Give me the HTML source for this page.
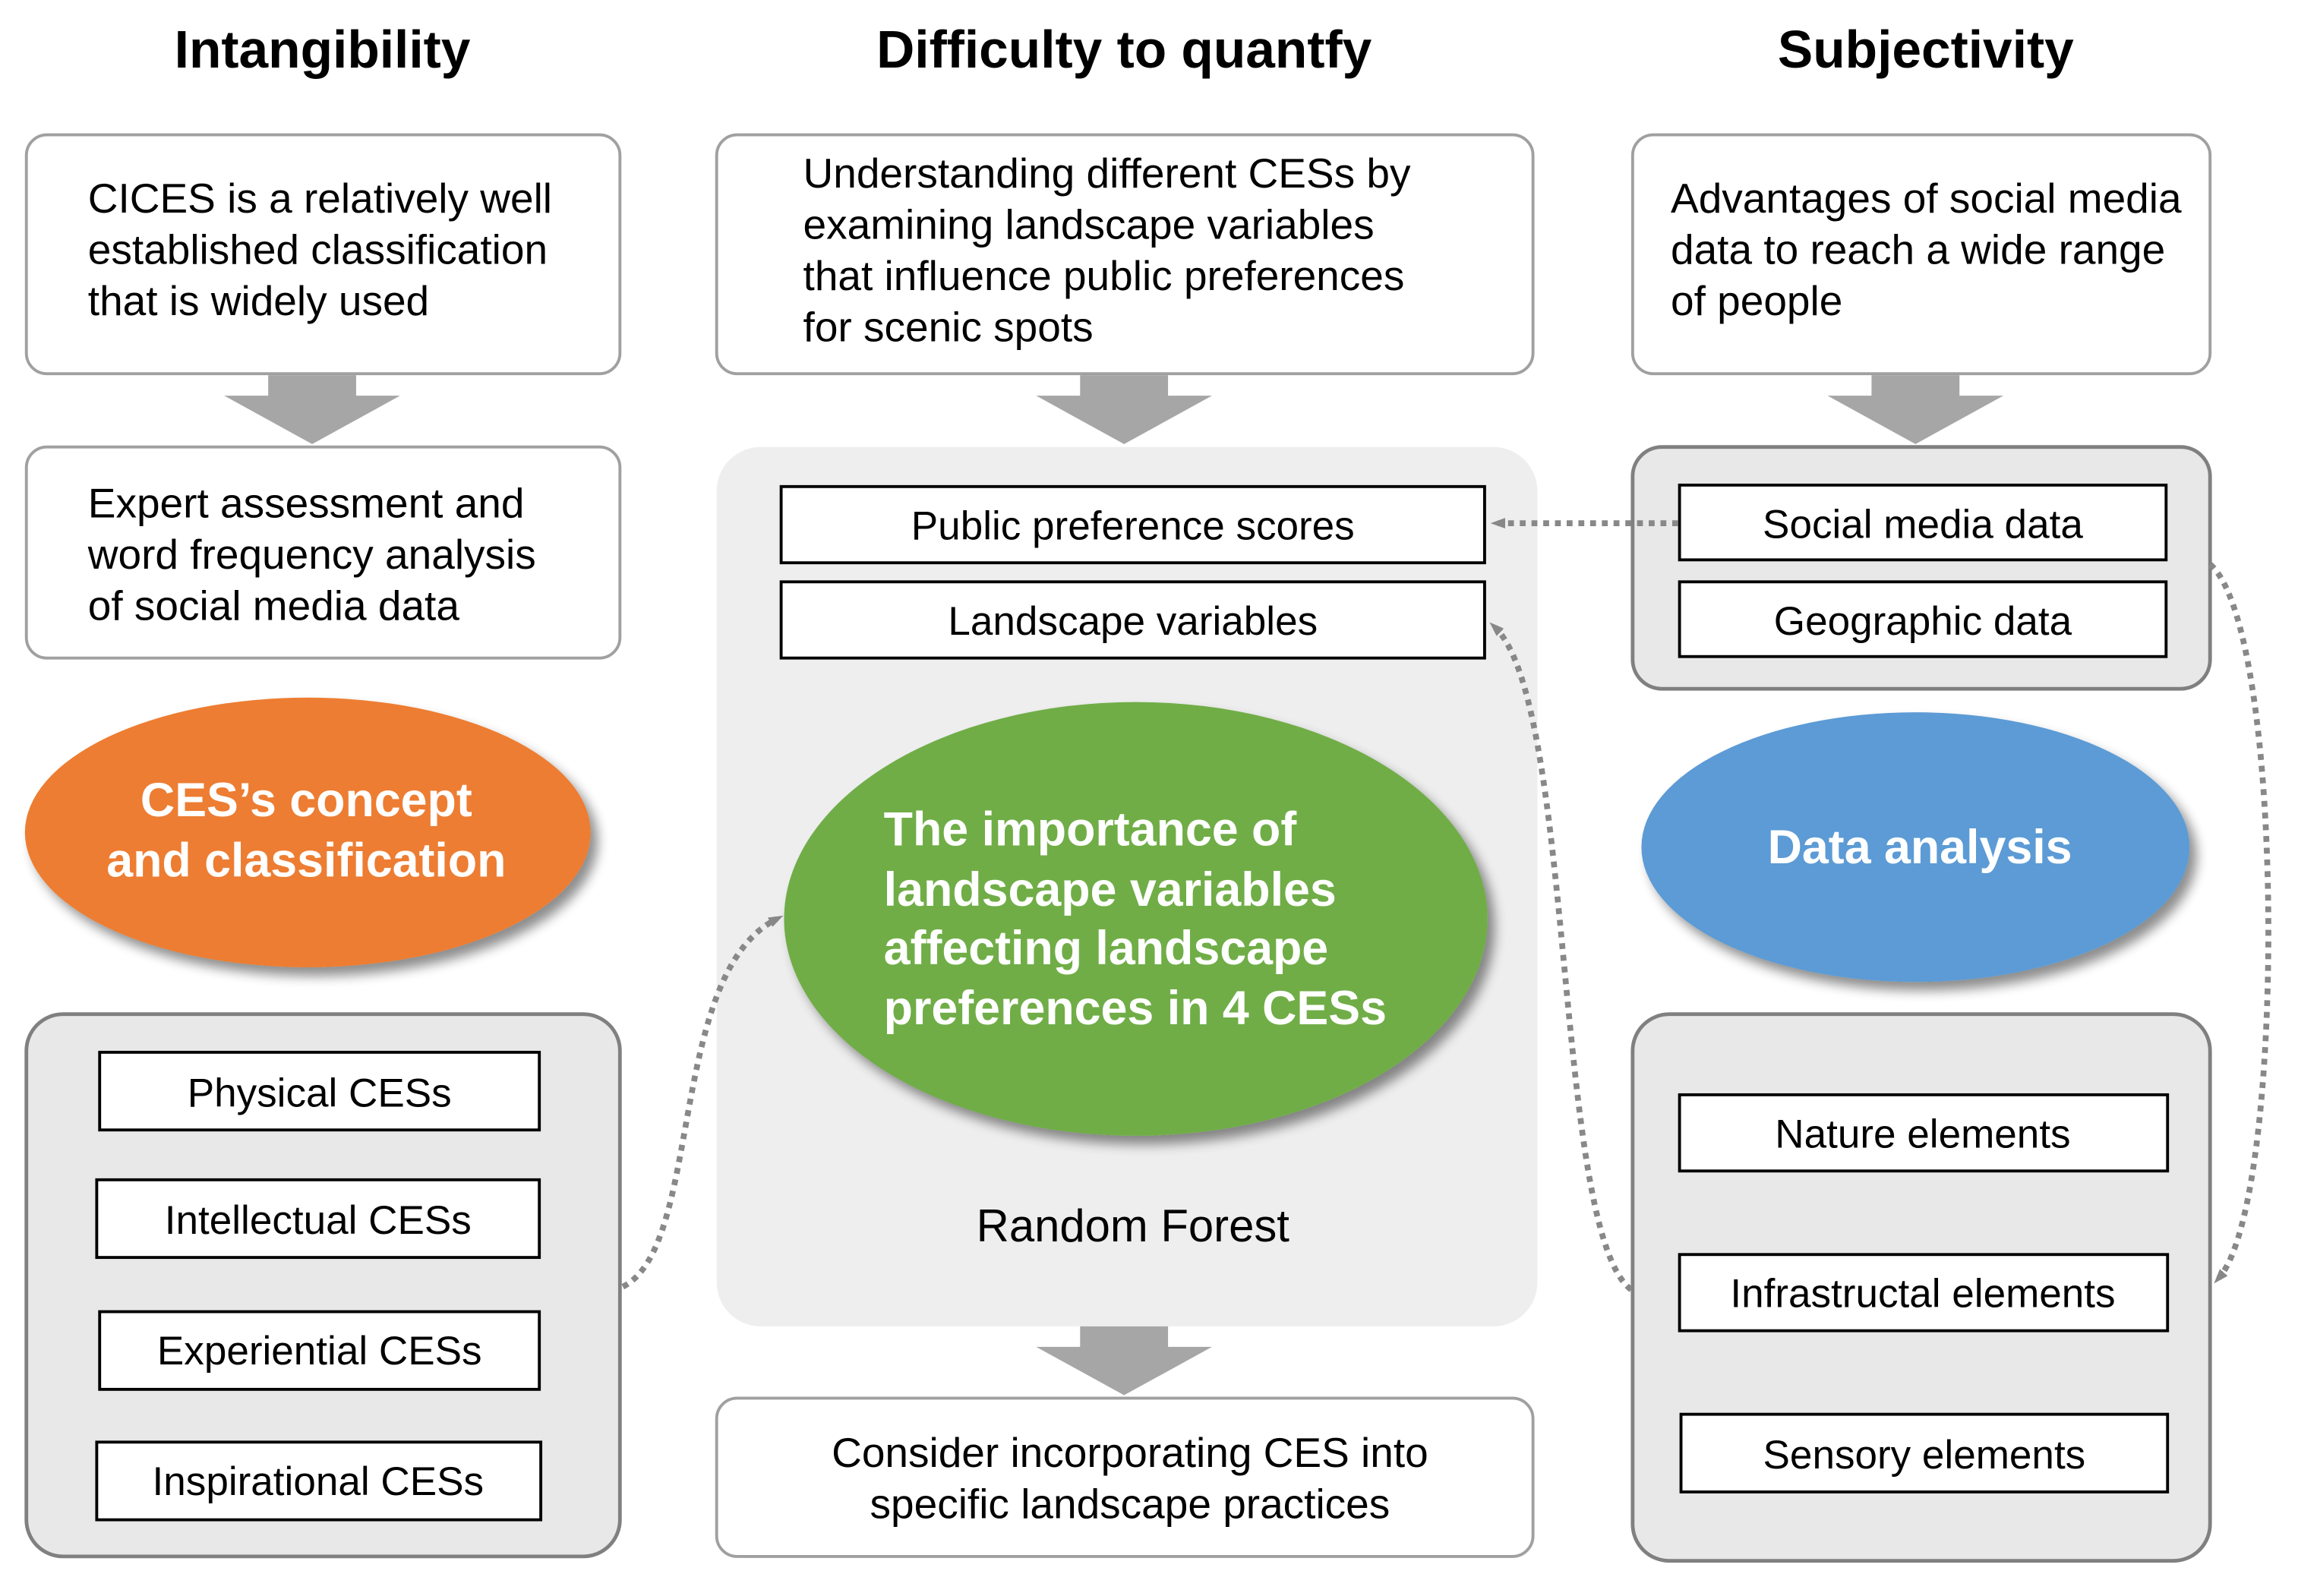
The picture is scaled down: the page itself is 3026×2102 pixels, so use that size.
<!DOCTYPE html>
<html><head><meta charset="utf-8"><style>
html,body{margin:0;padding:0;background:#fff;}
svg{display:block;}
text{font-family:"Liberation Sans",Arial,sans-serif;}
</style></head><body>
<svg width="3026" height="2102" viewBox="0 0 1568 1089" preserveAspectRatio="none" xmlns="http://www.w3.org/2000/svg">
<defs>
<filter id="sh" x="-20%" y="-20%" width="150%" height="150%"><feGaussianBlur in="SourceAlpha" stdDeviation="4"/><feOffset dx="5" dy="6"/><feComponentTransfer><feFuncA type="linear" slope="0.45"/></feComponentTransfer><feMerge><feMergeNode/><feMergeNode in="SourceGraphic"/></feMerge></filter>
<marker id="ah" markerWidth="10" markerHeight="10" refX="5" refY="5" orient="auto" markerUnits="userSpaceOnUse"><path d="M0,0 L14,5 L0,10 Z" fill="#888" transform="translate(-4,0)"/></marker>
</defs>
<g font-weight="bold" font-size="36" text-anchor="middle" fill="#000">
<text x="220" y="46">Intangibility</text>
<text x="767" y="46">Difficulty to quantfy</text>
<text x="1314" y="46">Subjectivity</text>
</g>
<rect x="489" y="305" width="560" height="600" rx="30" fill="#eeeeee"/>
<rect x="18" y="692" width="405" height="370" rx="25" fill="#e8e8e8" stroke="#808080" stroke-width="2.5"/>
<rect x="1114" y="305" width="394" height="165" rx="20" fill="#e8e8e8" stroke="#808080" stroke-width="2.5"/>
<rect x="1114" y="692" width="394" height="373" rx="25" fill="#e8e8e8" stroke="#808080" stroke-width="2.5"/>
<g fill="#fff" stroke="#a0a0a0" stroke-width="2">
<rect x="18" y="92" width="405" height="163" rx="14"/>
<rect x="489" y="92" width="557" height="163" rx="14"/>
<rect x="1114" y="92" width="394" height="163" rx="14"/>
<rect x="18" y="305" width="405" height="144" rx="14"/>
<rect x="489" y="954" width="557" height="108" rx="14"/>
</g>
<g fill="#a6a6a6">
<path d="M183,256 H243 V270 H273 L213,303 L153,270 H183 Z"/>
<path d="M737,256 H797 V270 H827 L767,303 L707,270 H737 Z"/>
<path d="M1277,256 H1337 V270 H1367 L1307,303 L1247,270 H1277 Z"/>
<path d="M737,905 H797 V919 H827 L767,952 L707,919 H737 Z"/>
</g>
<g font-size="28.5" fill="#000">
<text x="60" y="145">CICES is a relatively well</text>
<text x="60" y="180">established classification</text>
<text x="60" y="215">that is widely used</text>
<text x="548" y="128">Understanding different CESs by</text>
<text x="548" y="163">examining landscape variables</text>
<text x="548" y="198">that influence public preferences</text>
<text x="548" y="233">for scenic spots</text>
<text x="1140" y="145">Advantages of social media</text>
<text x="1140" y="180">data to reach a wide range</text>
<text x="1140" y="215">of people</text>
<text x="60" y="353">Expert assessment and</text>
<text x="60" y="388">word frequency analysis</text>
<text x="60" y="423">of social media data</text>
<text x="771" y="1001" text-anchor="middle">Consider incorporating CES into</text>
<text x="771" y="1036" text-anchor="middle">specific landscape practices</text>
<text x="773" y="847" text-anchor="middle" font-size="31">Random Forest</text>
</g>
<g fill="#fff" stroke="#000" stroke-width="2">
<rect x="68" y="718" width="300" height="53"/>
<rect x="66" y="805" width="302" height="53"/>
<rect x="68" y="895" width="300" height="53"/>
<rect x="66" y="984" width="303" height="53"/>
<rect x="533" y="332" width="480" height="52"/>
<rect x="533" y="397" width="480" height="52"/>
<rect x="1146" y="331" width="332" height="51"/>
<rect x="1146" y="397" width="332" height="51"/>
<rect x="1146" y="747" width="333" height="52"/>
<rect x="1146" y="856" width="333" height="52"/>
<rect x="1147" y="965" width="332" height="53"/>
</g>
<g font-size="27.5" fill="#000" text-anchor="middle">
<text x="218" y="755">Physical CESs</text>
<text x="217" y="842">Intellectual CESs</text>
<text x="218" y="931">Experiential CESs</text>
<text x="217" y="1020">Inspirational CESs</text>
<text x="773" y="368">Public preference scores</text>
<text x="773" y="433">Landscape variables</text>
<text x="1312" y="367">Social media data</text>
<text x="1312" y="433">Geographic data</text>
<text x="1312" y="783">Nature elements</text>
<text x="1312" y="892">Infrastructal elements</text>
<text x="1313" y="1002">Sensory elements</text>
</g>
<ellipse cx="210" cy="568" rx="193" ry="92" fill="#ED7D31" filter="url(#sh)"/>
<ellipse cx="775" cy="627" rx="240" ry="148" fill="#70AD47" filter="url(#sh)"/>
<ellipse cx="1307" cy="578" rx="187" ry="92" fill="#5B9BD5" filter="url(#sh)"/>
<g font-size="32.5" font-weight="bold" fill="#fff">
<text x="209" y="557" text-anchor="middle">CES’s concept</text>
<text x="209" y="598" text-anchor="middle">and classification</text>
<text x="1310" y="589" text-anchor="middle">Data analysis</text>
<text x="603" y="577">The importance of</text>
<text x="603" y="618">landscape variables</text>
<text x="603" y="658">affecting landscape</text>
<text x="603" y="699">preferences in 4 CESs</text>
</g>
<g fill="none" stroke="#888" stroke-width="4" stroke-dasharray="4 4" marker-end="url(#ah)">
<path d="M1145,357 L1022,357"/>
<path d="M1113,880 C1060,840 1075,480 1020,428"/>
<path d="M1508,385 C1560,430 1560,820 1514,872"/>
<path d="M425,878 C480,850 455,665 530,627"/>
</g>
</svg>
</body></html>
